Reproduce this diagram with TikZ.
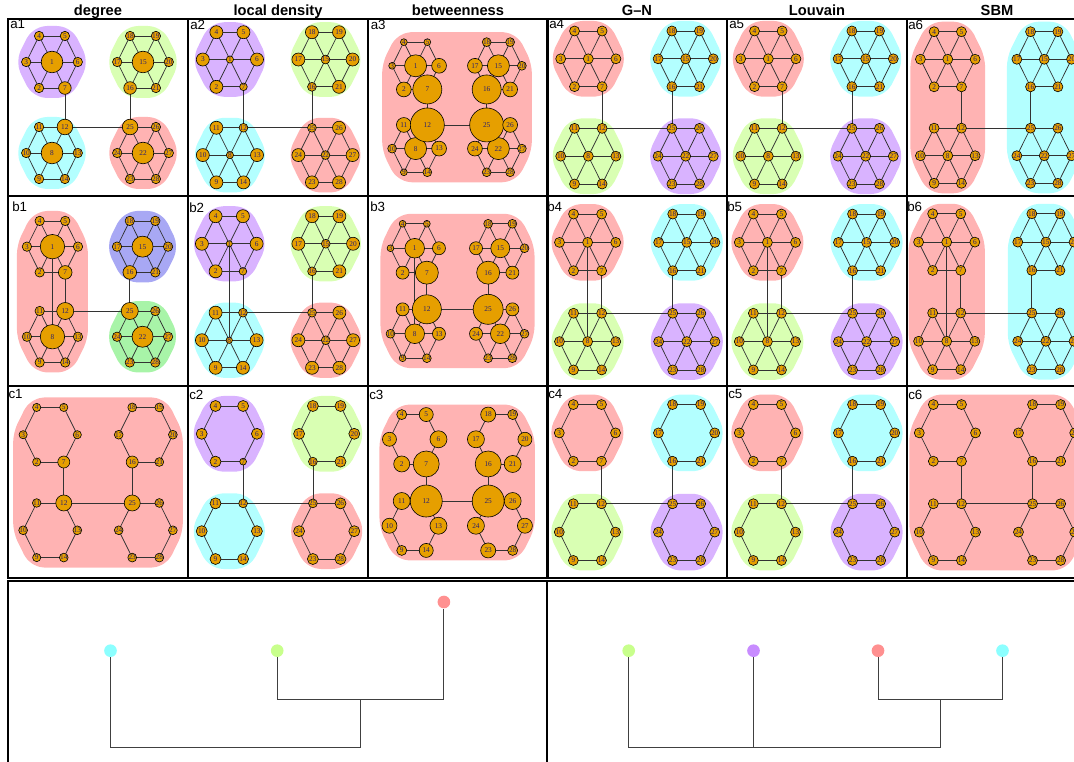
\documentclass[tikz,border=0pt]{standalone}
\usepackage{fontspec}
\setmainfont{Liberation Sans}
\newfontfamily\labfont{Liberation Serif}

\definecolor{vfill}{HTML}{E69F00}
\definecolor{vlab}{RGB}{40,30,110}
\definecolor{hred}{HTML}{FFB3B3}
\definecolor{hgreen}{HTML}{D9FFB3}
\definecolor{hcyan}{HTML}{B3FFFF}
\definecolor{hpurple}{HTML}{D9B3FF}
\definecolor{hblue}{HTML}{A8A8F4}
\definecolor{hlime}{HTML}{A8F4A8}
\definecolor{dred}{HTML}{FF9090}
\definecolor{dgreen}{HTML}{C8FF8C}
\definecolor{dcyan}{HTML}{8CFFFF}
\definecolor{dpurple}{HTML}{C88CFF}

\tikzset{
  vtx/.style={circle, draw=black, line width=0.45pt, fill=vfill, inner sep=0pt,
    font=\labfont\fontsize{5.5}{5.5}\selectfont, text=vlab},
  lnk/.style={draw=black!80, line width=0.55pt},
  hullbg/.style={fill=#1, draw=#1, line width=15pt, line join=round, rounded corners=6pt},
  frame/.style={draw=black, line width=0.8pt},
  dot/.style={circle, inner sep=0pt, minimum size=9.5pt},
  dendro/.style={draw=black!75, line width=0.75pt},
  coltitle/.style={font=\bfseries\fontsize{11}{11}\selectfont, anchor=base},
  plabel/.style={font=\fontsize{10}{10}\selectfont, anchor=north west, inner sep=0pt}
}

% node sizes (px radius) for nodes 1..28, 0 = node absent
\def\degA{{10.8,4.7,4.7,4.7,4.7,4.7,6.3,10.8,4.7,4.7,4.7,7.8,4.7,4.7,10.8,6.3,4.7,4.7,4.7,4.7,4.7,10.8,4.7,4.7,7.8,4.7,4.7,4.7}}
\def\degB{{12.2,4.7,4.7,4.7,4.7,4.7,6.8,12.2,4.7,4.7,4.7,8.5,4.7,4.7,10.5,6.8,4.7,4.7,4.7,4.7,4.7,10.5,4.7,4.7,8.5,4.7,4.7,4.7}}
\def\degC{{0,4.1,4.1,4.1,4.1,4.1,6,0,4.1,4.1,4.1,8,4.1,4.1,0,6,4.1,4.1,4.1,4.1,4.1,0,4.1,4.1,8,4.1,4.1,4.1}}
\def\denA{{3.6,6.5,6.5,6.5,6.5,6.5,3.8,3.6,6.5,6.5,6.5,3,6.5,6.5,3.6,3.8,6.5,6.5,6.5,6.5,6.5,3.6,6.5,6.5,3,6.5,6.5,6.5}}
\def\denB{{3.1,6.5,6.5,6.5,6.5,6.5,3.8,3.2,6.5,6.5,6.5,3,6.5,6.5,3.6,3.8,6.5,6.5,6.5,6.5,6.5,3.7,6.5,6.5,3,6.5,6.5,6.5}}
\def\denC{{0,5.5,5.5,5.5,5.5,5.5,3.4,0,5.5,5.5,5.5,3,5.5,5.5,0,3.4,5.5,5.5,5.5,5.5,5.5,0,5.5,5.5,3,5.5,5.5,5.5}}
\def\betA{{11,7.4,3.4,3.4,3.4,7.4,14.5,11,3.4,3.4,7.4,17,7.4,3.4,11,14.5,7.4,3.4,3.4,3.4,7.4,11,3.4,7.4,17,7.4,3.4,3.4}}
\def\betB{{9.8,6.5,3.4,3.4,3.4,6.5,11.5,9.8,3.4,3.4,6.5,14.5,6.5,3.4,9.5,11.5,6.5,3.4,3.4,3.4,6.5,9.8,3.4,6.5,15,6.5,3.4,3.4}}
\def\betC{{0,8,7,5,7,8.5,13,0,5,7.5,8.5,16,8.5,7,0,13,8.5,7.5,5,7,8.5,0,7.5,8.5,16,8.5,7.5,5}}
\def\comA{{5,5,5,5,5,5,5,5,5,5,5,5,5,5,5,5,5,5,5,5,5,5,5,5,5,5,5,5}}
\def\comC{{0,5,5,5,5,5,5,0,5,5,5,5,5,5,0,5,5,5,5,5,5,0,5,5,5,5,5,5}}

% coordinates of the 28 nodes of one panel
\newcommand\placenet[4]{%
  \foreach \k/\ox/\oy in {0/-45.5/-45.5,1/-45.5/45.5,2/45.5/-45.5,3/45.5/45.5}{%
    \foreach \j/\dx/\dy in {1/0/0,2/-12.9/26,3/-25.8/0,4/-12.9/-26,5/12.9/-26,6/25.8/0,7/12.9/26}{%
      \pgfmathtruncatemacro\n{7*\k+\j}%
      \coordinate (#1-\n) at ({#2+#4*((\ox)+(\dx))},{#3+#4*((\oy)+(\dy))});
    }}}
% mode 0: wheels, 1: wheels and 1--8, 2: rings only
\newcommand\netedges[2]{%
  \foreach \k in {0,...,3}{%
    \foreach \pa/\pb in {4/5,5/6,6/7,7/2,2/3,3/4}{%
      \pgfmathtruncatemacro\pp{7*\k+\pa}\pgfmathtruncatemacro\qq{7*\k+\pb}%
      \draw[lnk] (#1-\pp) -- (#1-\qq);}%
    \ifnum#2<2
      \pgfmathtruncatemacro\cc{7*\k+1}%
      \foreach \j in {2,...,7}{\pgfmathtruncatemacro\qq{7*\k+\j}\draw[lnk] (#1-\cc) -- (#1-\qq);}%
    \fi}%
  \draw[lnk] (#1-7) -- (#1-12) (#1-16) -- (#1-25) (#1-12) -- (#1-25);
  \ifnum#2=1 \draw[lnk] (#1-1) -- (#1-8);\fi}
\newcommand\netnodes[2]{%
  \foreach \n in {1,...,28}{%
    \pgfmathsetmacro\rr{#2[\n-1]}%
    \ifdim\rr pt>0pt
      \pgfmathsetmacro\dd{1.5*\rr}%
      \node[vtx, minimum size=\dd pt] (#1-v\n) at (#1-\n) {\n};
    \fi}}
% group hulls
\newcommand\hexhull[3]{%
  \pgfmathtruncatemacro\ha{#3+4}\pgfmathtruncatemacro\hb{#3+5}\pgfmathtruncatemacro\hc{#3+6}%
  \pgfmathtruncatemacro\hd{#3+7}\pgfmathtruncatemacro\he{#3+2}\pgfmathtruncatemacro\hf{#3+3}%
  \path[hullbg=#2] (#1-\ha) -- (#1-\hb) -- (#1-\hc) -- (#1-\hd) -- (#1-\he) -- (#1-\hf) -- cycle;}
\newcommand\pairhull[3]{%
  \pgfmathtruncatemacro\ha{#3+4}\pgfmathtruncatemacro\hb{#3+5}\pgfmathtruncatemacro\hc{#3+6}%
  \pgfmathtruncatemacro\hd{#3+13}\pgfmathtruncatemacro\he{#3+14}\pgfmathtruncatemacro\hf{#3+9}%
  \pgfmathtruncatemacro\hg{#3+10}\pgfmathtruncatemacro\hh{#3+3}%
  \path[hullbg=#2] (#1-\ha) -- (#1-\hb) -- (#1-\hc) -- (#1-\hd) -- (#1-\he) -- (#1-\hf) -- (#1-\hg) -- (#1-\hh) -- cycle;}
\newcommand\allhull[2]{%
  \path[hullbg=#2] (#1-4) -- (#1-19) -- (#1-20) -- (#1-27) -- (#1-28) -- (#1-9) -- (#1-10) -- (#1-3) -- cycle;}
\newcommand\fourhull[5]{\hexhull{#1}{#2}{0}\hexhull{#1}{#3}{14}\hexhull{#1}{#4}{7}\hexhull{#1}{#5}{21}}

\begin{document}
\begin{tikzpicture}[x=0.75pt, y=-0.75pt]
\useasboundingbox (0,0) rectangle (1074,762);

% row a
\placenet{a1}{97.5}{107.5}{1.00}
\fourhull{a1}{hpurple}{hgreen}{hcyan}{hred}
\netedges{a1}{0} \netnodes{a1}{\degA}
\placenet{a2}{277.7}{107.3}{1.05}
\fourhull{a2}{hpurple}{hgreen}{hcyan}{hred}
\netedges{a2}{0} \netnodes{a2}{\denA}
\placenet{a3}{457}{107.2}{0.91}
\allhull{a3}{hred}
\netedges{a3}{0} \netnodes{a3}{\betA}
\placenet{a4}{637}{107.5}{1.07}
\fourhull{a4}{hred}{hcyan}{hgreen}{hpurple}
\netedges{a4}{0} \netnodes{a4}{\comA}
\placenet{a5}{817}{107.5}{1.07}
\fourhull{a5}{hred}{hcyan}{hgreen}{hpurple}
\netedges{a5}{0} \netnodes{a5}{\comA}
\placenet{a6}{996}{107.5}{1.06}
\pairhull{a6}{hred}{0} \pairhull{a6}{hcyan}{14}
\netedges{a6}{0} \netnodes{a6}{\comA}

% row b
\placenet{b1}{97.5}{291.7}{0.99}
\pairhull{b1}{hred}{0} \hexhull{b1}{hblue}{14} \hexhull{b1}{hlime}{21}
\netedges{b1}{1} \netnodes{b1}{\degB}
\placenet{b2}{277.5}{292}{1.06}
\fourhull{b2}{hpurple}{hgreen}{hcyan}{hred}
\netedges{b2}{1} \netnodes{b2}{\denB}
\placenet{b3}{457.5}{291}{0.94}
\allhull{b3}{hred}
\netedges{b3}{1} \netnodes{b3}{\betB}
\placenet{b4}{637.2}{292}{1.09}
\fourhull{b4}{hred}{hcyan}{hgreen}{hpurple}
\netedges{b4}{1} \netnodes{b4}{\comA}
\placenet{b5}{817}{292}{1.09}
\fourhull{b5}{hred}{hcyan}{hgreen}{hpurple}
\netedges{b5}{1} \netnodes{b5}{\comA}
\placenet{b6}{996.3}{291.7}{1.09}
\pairhull{b6}{hred}{0} \pairhull{b6}{hcyan}{14}
\netedges{b6}{1} \netnodes{b6}{\comA}

% row c
\placenet{c1}{98}{482.5}{1.05}
\allhull{c1}{hred}
\netedges{c1}{2} \netnodes{c1}{\degC}
\placenet{c2}{278}{482.5}{1.07}
\fourhull{c2}{hpurple}{hgreen}{hcyan}{hred}
\netedges{c2}{2} \netnodes{c2}{\denC}
\placenet{c3}{457.2}{482.5}{0.95}
\allhull{c3}{hred}
\netedges{c3}{2} \netnodes{c3}{\betC}
\placenet{c4}{637}{482.5}{1.09}
\fourhull{c4}{hred}{hcyan}{hgreen}{hpurple}
\netedges{c4}{2} \netnodes{c4}{\comC}
\placenet{c5}{817}{482.5}{1.09}
\fourhull{c5}{hred}{hcyan}{hgreen}{hpurple}
\netedges{c5}{2} \netnodes{c5}{\comC}
\placenet{c6}{997}{482.5}{1.09}
\allhull{c6}{hred}
\netedges{c6}{2} \netnodes{c6}{\comC}

% frames, titles, panel labels
\foreach \x in {8,188,368,547,727,907}
  \foreach \y/\h in {19/196,196/386,386/578}
    \draw[frame] (\x,\y) rectangle ({\x+180},\h);
\draw[frame] (8,581) rectangle (547,790);
\draw[frame] (547,581) rectangle (1090,790);

\foreach \t/\x in {degree/98,local density/278,betweenness/458,G–N/637,Louvain/817,SBM/997}
  \node[coltitle] (title-\x) at (\x,15.5) {\t};

\foreach \t/\x/\y in {a1/10/19.5,a2/190/19.5,a3/370.5/19.5,a4/549/19.5,a5/729/19.5,a6/908/19.5,
    b1/12/201.5,b2/189/202.5,b3/370/202,b4/547/201.5,b5/727/201.5,b6/907/201.5,
    c1/8.3/389,c2/189/389.5,c3/369/390,c4/548/389.5,c5/728/389.5,c6/908/389.5}
  \node[plabel] (lab-\t) at (\x,\y) {\t};

% dendrograms
\node[dot, fill=dcyan] (dl-cyan) at (110.5,650.7) {};
\node[dot, fill=dgreen] (dl-green) at (277.2,650.7) {};
\node[dot, fill=dred] (dl-red) at (443.9,602) {};
\coordinate (dl-join) at (360.5,699);
\coordinate (dl-base) at (235.5,747.3);
\draw[dendro] (dl-green) |- (dl-red |- dl-join) -- (dl-red);
\draw[dendro] (dl-cyan) |- (dl-join |- dl-base) -- (dl-join);

\node[dot, fill=dgreen] (dr-green) at (628.7,650.7) {};
\node[dot, fill=dpurple] (dr-purple) at (753.5,650.7) {};
\node[dot, fill=dred] (dr-red) at (878,650.7) {};
\node[dot, fill=dcyan] (dr-cyan) at (1002.5,650.7) {};
\coordinate (dr-join) at (940.4,699);
\coordinate (dr-base) at (846.9,747.3);
\draw[dendro] (dr-red) |- (dr-cyan |- dr-join) -- (dr-cyan);
\draw[dendro] (dr-green) |- (dr-join |- dr-base) -- (dr-join);
\draw[dendro] (dr-purple) -- (dr-purple |- dr-base);
\end{tikzpicture}
\end{document}
